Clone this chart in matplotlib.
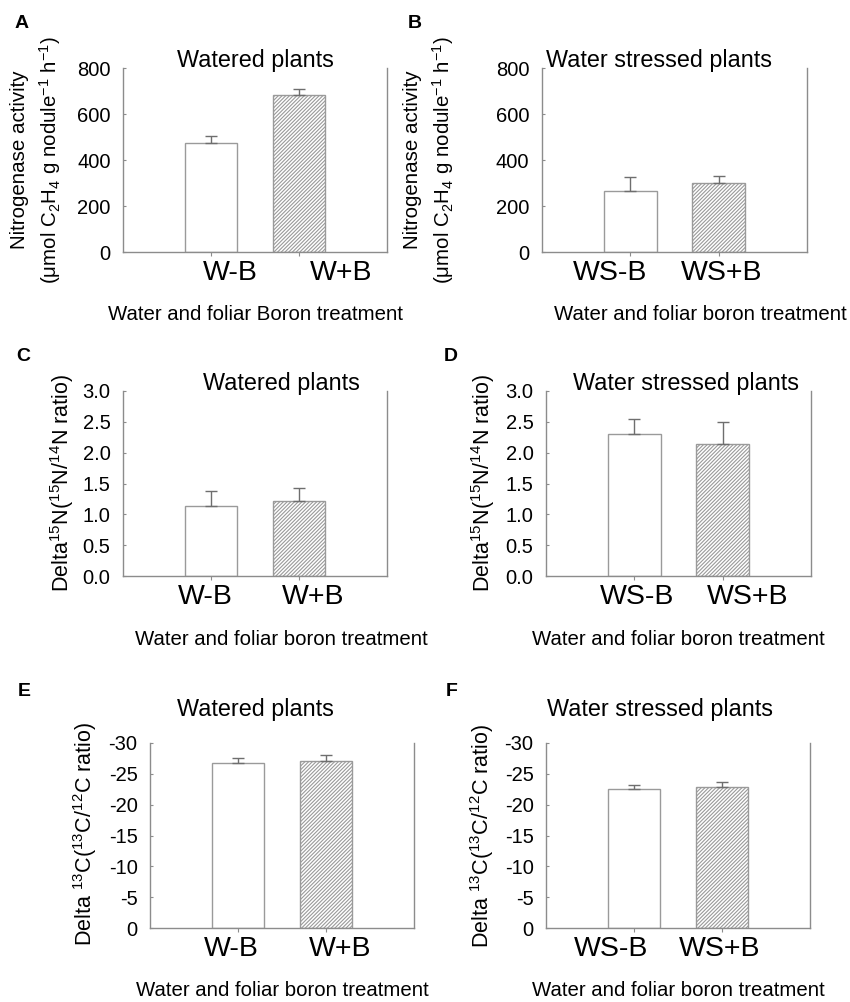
import numpy as np
import matplotlib
matplotlib.use('Agg')
import matplotlib.pyplot as plt

plt.rcParams['font.family'] = ['Liberation Sans', 'DejaVu Sans']
plt.rcParams['mathtext.fontset'] = 'custom'
plt.rcParams['mathtext.rm'] = 'Liberation Sans'
plt.rcParams['mathtext.it'] = 'Liberation Sans'
plt.rcParams['hatch.linewidth'] = 0.8

# data
watered_cats = ['W-B', 'W+B']
stressed_cats = ['WS-B', 'WS+B']

nase_w = [476, 684]
nase_w_err = [28, 23]
nase_ws = [266, 299]
nase_ws_err = [62, 32]

d15n_w = [1.14, 1.22]
d15n_w_err = [0.24, 0.21]
d15n_ws = [2.31, 2.14]
d15n_ws_err = [0.23, 0.36]

d13c_w = [-26.75, -27.07]
d13c_w_err = [0.8, 1.0]
d13c_ws = [-22.52, -22.79]
d13c_ws_err = [0.65, 0.87]

nase_ticks = [0, 200, 400, 600, 800]
d15n_ticks = [0.0, 0.5, 1.0, 1.5, 2.0, 2.5, 3.0]
d13c_ticks = [0, -5, -10, -15, -20, -25, -30]

W, H = 850, 1002
fig = plt.figure(figsize=(W / 100, H / 100), dpi=100)

GRAY = '#8c8c8c'
EDGE = '#9a9a9a'


def px_ax(l, t, r, b):
    return fig.add_axes([l / W, 1 - b / H, (r - l) / W, (b - t) / H])


def panel(ax, cats, vals, errs, ticks, ylim, fmt, lab_dx, title, tx, ty):
    pos = np.array([1, 2])
    vals = np.array(vals, dtype=float)
    errs = np.array(errs, dtype=float)
    ax.bar(pos[0], vals[0], width=0.6, color='white', edgecolor=EDGE, linewidth=1.0)
    ax.bar(pos[1], vals[1], width=0.6, color='white', edgecolor=EDGE, linewidth=1.0,
           hatch='/////////')
    lo = np.where(vals < 0, errs, 0)
    hi = np.where(vals > 0, errs, 0)
    ax.errorbar(pos, vals, yerr=[lo, hi], fmt='none', ecolor='#6e6e6e',
                elinewidth=1.0, capsize=4, capthick=1.0)
    ax.set_xlim(0, 3)
    ax.set_ylim(*ylim)
    ax.set_yticks(ticks)
    ax.set_yticklabels([fmt.format(t) for t in ticks])
    ax.set_xticks(pos)
    ax.set_xticklabels([])
    for s in ['left', 'bottom', 'right']:
        ax.spines[s].set_color(GRAY)
        ax.spines[s].set_linewidth(1.0)
    ax.spines['top'].set_visible(False)
    ax.tick_params(axis='y', direction='in', length=2, color=GRAY,
                   labelsize=14.5, pad=9)
    ax.tick_params(axis='x', direction='out', length=3, color=GRAY)
    for p, c, dx in zip(pos, cats, lab_dx):
        ax.annotate(c, xy=(p, 0), xycoords=ax.get_xaxis_transform(),
                    xytext=(dx * 0.72, -6), textcoords='offset points',
                    ha='center', va='top', fontsize=20.5)
    ax.text(tx, ty, title, transform=ax.transAxes, ha='center',
            va='baseline', fontsize=16.8)


axA = px_ax(123, 68, 387, 252)
panel(axA, watered_cats, nase_w, nase_w_err, nase_ticks, (0, 800), '{:d}',
      [19, 42], 'Watered plants', 0.50, 1.005)
axB = px_ax(542, 68, 807, 252)
panel(axB, stressed_cats, nase_ws, nase_ws_err, nase_ticks, (0, 800), '{:d}',
      [-20, 3], 'Water stressed plants', 0.443, 1.005)

axC = px_ax(123, 391, 387, 576)
panel(axC, watered_cats, d15n_w, d15n_w_err, d15n_ticks, (0, 3), '{:.1f}',
      [-6, 14], 'Watered plants', 0.602, 1.005)
axD = px_ax(546, 391, 811, 576)
panel(axD, stressed_cats, d15n_ws, d15n_ws_err, d15n_ticks, (0, 3), '{:.1f}',
      [3, 25], 'Water stressed plants', 0.529, 1.005)

axE = px_ax(150, 743, 414, 928)
panel(axE, watered_cats, d13c_w, d13c_w_err, d13c_ticks, (0, -30), '{:d}',
      [-7, 14], 'Watered plants', 0.398, 1.144)
axF = px_ax(546, 743, 810, 928)
panel(axF, stressed_cats, d13c_ws, d13c_ws_err, d13c_ticks, (0, -30), '{:d}',
      [-23, -2], 'Water stressed plants', 0.43, 1.144)


def ftext(x, y, s, **kw):
    fig.text(x / W, 1 - y / H, s, **kw)


# panel letters
for x, y, s in [(22, 24, 'A'), (415, 24, 'B'), (23, 356, 'C'),
                (451, 356, 'D'), (24, 691, 'E'), (452, 691, 'F')]:
    ftext(x, y, s, ha='center', va='center', fontsize=14, fontweight='bold')

# x axis titles
for x, y, s in [(255, 320, 'Water and foliar Boron treatment'),
                (700, 320, 'Water and foliar boron treatment'),
                (281, 645, 'Water and foliar boron treatment'),
                (678, 645, 'Water and foliar boron treatment'),
                (282, 996, 'Water and foliar boron treatment'),
                (678, 996, 'Water and foliar boron treatment')]:
    ftext(x, y, s, ha='center', va='baseline', fontsize=14.7)

# y axis titles
nase1 = 'Nitrogenase activity'
nase2 = r'($\mathregular{\mu}$mol C$_\mathregular{2}$H$_\mathregular{4}$ g nodule$^\mathregular{-1}$ h$^\mathregular{-1}$)'
n15 = r'Delta$^\mathregular{15}$N($^\mathregular{15}$N/$^\mathregular{14}$N ratio)'
c13 = r'Delta $^\mathregular{13}$C($^\mathregular{13}$C/$^\mathregular{12}$C ratio)'
for x, y, s in [(20, 160, nase1), (50, 160, nase2),
                (413, 160, nase1), (443, 160, nase2)]:
    ftext(x, y, s, rotation=90, ha='center', va='center', fontsize=14.8)
for x, y, s in [(62, 483, n15), (483, 483, n15), (85, 834, c13), (482, 836, c13)]:
    ftext(x, y, s, rotation=90, ha='center', va='center', fontsize=15.5)

fig.savefig('out.png', dpi=100)
